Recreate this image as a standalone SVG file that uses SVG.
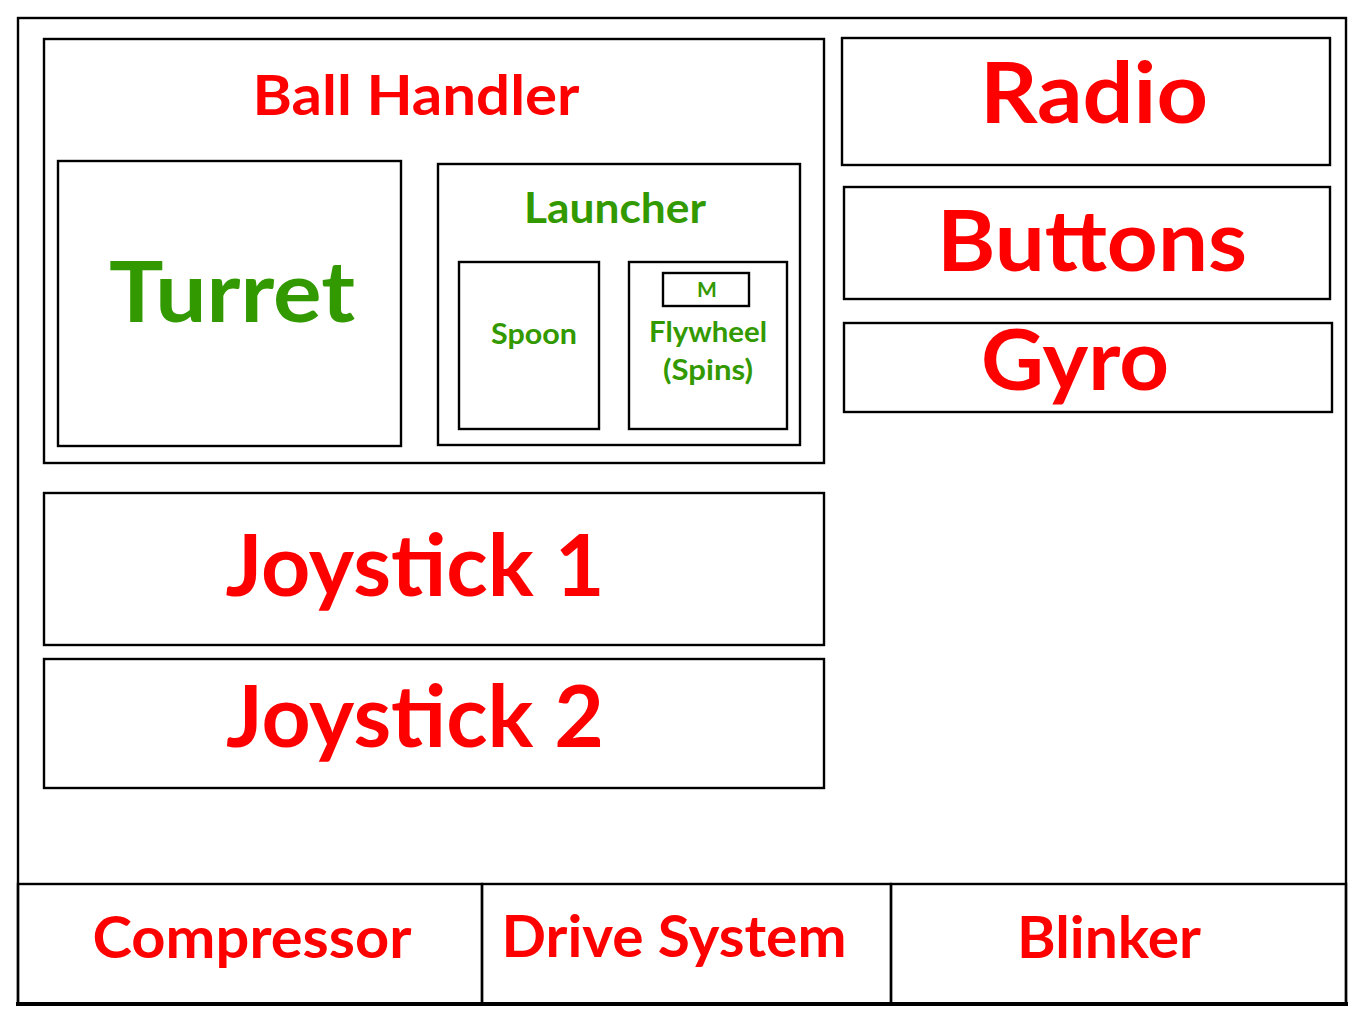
<svg xmlns="http://www.w3.org/2000/svg" width="1366" height="1025" viewBox="0 0 1366 1025">
<style>
.box{fill:none;stroke:#000;stroke-width:2.4}
.t{font-family:Lato,"Liberation Sans",sans-serif;font-weight:bold;text-anchor:middle}
.r{fill:#ff0000}
.g{fill:#339900}
</style>
<rect width="1366" height="1025" fill="#fff"/>
<g id="frame">
<rect class="box" x="18" y="18" width="1328" height="986"/>
<line x1="16" y1="1004" x2="1348" y2="1004" stroke="#000" stroke-width="4"/>
</g>
<g id="ball-handler">
<rect class="box" x="44" y="39" width="780" height="424"/>
<text class="t r" x="416" y="115" font-size="56" textLength="327" lengthAdjust="spacingAndGlyphs">Ball Handler</text>
</g>
<g id="turret">
<rect class="box" x="58" y="161" width="343" height="285"/>
<text class="t g" x="232" y="322" font-size="85" textLength="246" lengthAdjust="spacingAndGlyphs">Turret</text>
</g>
<g id="launcher">
<rect class="box" x="438" y="164" width="362" height="281"/>
<text class="t g" x="615" y="223" font-size="42" textLength="182" lengthAdjust="spacingAndGlyphs">Launcher</text>
</g>
<g id="spoon">
<rect class="box" x="459" y="262" width="140" height="167"/>
<text class="t g" x="534" y="344" font-size="28" textLength="86" lengthAdjust="spacingAndGlyphs">Spoon</text>
</g>
<g id="flywheel">
<rect class="box" x="629" y="262" width="158" height="167"/>
<text class="t g" x="708" y="342" font-size="28" textLength="118" lengthAdjust="spacingAndGlyphs">Flywheel</text>
<text class="t g" x="708" y="380" font-size="28" textLength="90" lengthAdjust="spacingAndGlyphs">(Spins)</text>
</g>
<g id="motor">
<rect class="box" x="663" y="273" width="86" height="33"/>
<text class="t g" x="707" y="297" font-size="21">M</text>
</g>
<g id="radio">
<rect class="box" x="842" y="38" width="488" height="127"/>
<text class="t r" x="1094" y="123" font-size="84" textLength="228" lengthAdjust="spacingAndGlyphs">Radio</text>
</g>
<g id="buttons">
<rect class="box" x="844" y="187" width="486" height="112"/>
<text class="t r" x="1092" y="271" font-size="84" textLength="310" lengthAdjust="spacingAndGlyphs">Buttons</text>
</g>
<g id="gyro">
<rect class="box" x="844" y="323" width="488" height="89"/>
<text class="t r" x="1075" y="390" font-size="84" textLength="188" lengthAdjust="spacingAndGlyphs">Gyro</text>
</g>
<g id="joystick1">
<rect class="box" x="44" y="493" width="780" height="152"/>
<text class="t r" x="415" y="596" font-size="87" textLength="379" lengthAdjust="spacingAndGlyphs">Joystick 1</text>
</g>
<g id="joystick2">
<rect class="box" x="44" y="659" width="780" height="129"/>
<text class="t r" x="415" y="747" font-size="87" textLength="378" lengthAdjust="spacingAndGlyphs">Joystick 2</text>
</g>
<g id="compressor">
<rect class="box" x="18" y="884" width="464" height="120"/>
<text class="t r" x="252" y="958" font-size="57" textLength="319" lengthAdjust="spacingAndGlyphs">Compressor</text>
</g>
<g id="drive-system">
<rect class="box" x="482" y="884" width="409" height="120"/>
<text class="t r" x="674" y="957" font-size="57" textLength="345" lengthAdjust="spacingAndGlyphs">Drive System</text>
</g>
<g id="blinker">
<rect class="box" x="891" y="884" width="455" height="120"/>
<text class="t r" x="1109" y="958" font-size="57" textLength="184" lengthAdjust="spacingAndGlyphs">Blinker</text>
</g>
<g id="connectors"/>
</svg>
